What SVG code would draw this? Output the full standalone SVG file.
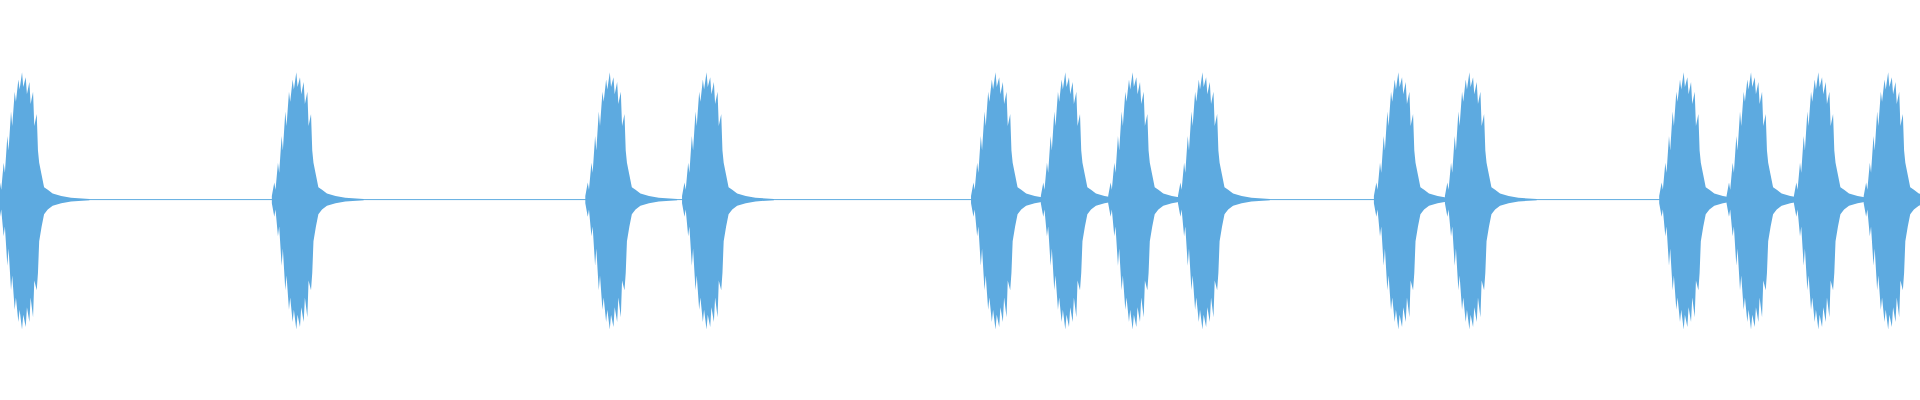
<svg xmlns="http://www.w3.org/2000/svg" width="1920" height="400" viewBox="0 0 1920 400">
<style>.w{fill:#5DAAE0}.c{stroke:#5DAAE0;stroke-width:0.8}</style>
<defs>
<path id="b" d="M0,-3 L2,-14 L3,-8 L5,-30 L6,-22 L8,-52 L9,-40 L11,-72 L12,-60 L14,-88 L15,-80 L17,-98 L18,-90 L20,-104 L21,-92 L23,-100 L24,-86 L26,-96 L27,-78 L29,-88 L30,-60 L32,-70 L33,-40 L34,-30 L36,-20 L38,-10 L41,-8 L45,-5 L52,-3 L60,-1.5 L75,-0.5 L75,0.5 L60,1.5 L52,3 L45,5 L41,8 L38,12 L36,22 L34,34 L33,60 L32,74 L30,66 L29,96 L27,80 L26,100 L24,88 L23,104 L21,94 L20,106 L18,90 L17,100 L15,80 L14,90 L12,62 L11,74 L9,40 L8,54 L6,22 L5,30 L3,8 L2,14 L0,3 Z"/>
</defs>
<g transform="scale(1.2245)">
<line class="c" x1="0" y1="163" x2="1568" y2="163"/>
<g class="w" transform="translate(0,163)">
<use href="#b" x="-2"/>
<use href="#b" x="222"/>
<use href="#b" x="478"/>
<use href="#b" x="557"/>
<use href="#b" x="793"/>
<use href="#b" x="850"/>
<use href="#b" x="905"/>
<use href="#b" x="962"/>
<use href="#b" x="1122"/>
<use href="#b" x="1180"/>
<use href="#b" x="1355"/>
<use href="#b" x="1410"/>
<use href="#b" x="1465"/>
<use href="#b" x="1522"/>
</g>
</g>
</svg>
